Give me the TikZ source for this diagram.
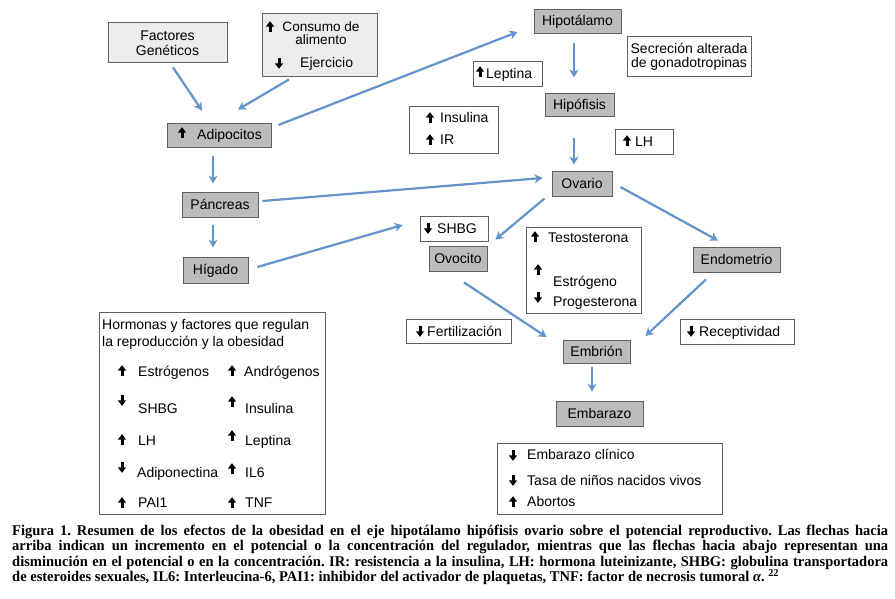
\documentclass[tikz,border=0pt]{standalone}
\usepackage{fontspec}
\setmainfont{Liberation Serif}
\setsansfont{Liberation Sans}
\newfontfamily\capfont[FakeStretch=0.98]{Liberation Serif}
\usetikzlibrary{arrows.meta,calc}
\definecolor{flow}{RGB}{98,148,203}
\definecolor{boxdark}{RGB}{188,188,188}
\definecolor{boxlight}{RGB}{236,236,236}
\definecolor{edge}{RGB}{95,95,95}
\tikzset{
  dbox/.style={draw=edge, fill=boxdark, line width=0.9pt, inner sep=0pt, text height=9pt, text depth=0pt},
  lbox/.style={draw=edge, fill=boxlight, line width=0.9pt, inner sep=0pt},
  wbox/.style={draw=edge, fill=white, line width=0.9pt, inner sep=0pt},
  txt/.style={inner sep=0pt, anchor=west, text height=9pt, text depth=0pt},
  ctxt/.style={inner sep=0pt, anchor=center, text height=9pt, text depth=0pt},
  flowarr/.style={draw=flow, line width=2.2pt, -{Stealth[length=8pt,width=9pt,inset=2.5pt]}},
  capline/.style={inner sep=0pt, anchor=base west, font=\capfont\bfseries\fontsize{14.8}{15.5}\selectfont\frenchspacing},
  upa/.pic={\fill[black] (-4.2,-0.3) -- (0,-5.8) -- (4.2,-0.3) -- cycle; \fill[black] (-1.5,-1) rectangle (1.5,4.8);},
  dna/.pic={\fill[black] (-4.2,0.3) -- (0,5.8) -- (4.2,0.3) -- cycle; \fill[black] (-1.5,1) rectangle (1.5,-4.8);}
}
\begin{document}
\begin{tikzpicture}[x=1pt,y=-1pt,font=\sffamily\fontsize{14}{16}\selectfont]
\useasboundingbox[fill=white] (0,0) rectangle (895,598);

% ---- boxes ----
\node[lbox, minimum width=119, minimum height=40] (gen) at (167.5,42) {};
\node[inner sep=0pt, align=center, font=\sffamily\fontsize{14}{15}\selectfont] (genT) at (167.5,43) {Factores\\Genéticos};

\node[lbox, minimum width=115, minimum height=63] (cons) at (319.5,44.5) {};
\pic at (270,27) {upa};
\node[inner sep=0pt, align=center, font=\sffamily\fontsize{13.6}{13.2}\selectfont] (consA) at (321,33.5) {Consumo de\\alimento};
\pic at (279,63) {dna};
\node[txt] (consC) at (300,63) {Ejercicio};

\node[dbox, minimum width=104, minimum height=24] (adip) at (219,135) {};
\pic at (182,133) {upa};
\node[txt] (adipT) at (197,135) {Adipocitos};

\node[dbox, minimum width=87, minimum height=24] (hipot) at (577.5,21) {Hipotálamo};

\node[wbox, minimum width=124, minimum height=40] (secr) at (689,56) {};
\node[inner sep=0pt, align=center, font=\sffamily\fontsize{14}{14}\selectfont] (secrT) at (689,56.5) {Secreción alterada\\de gonadotropinas};

\node[wbox, minimum width=69, minimum height=25] (lept) at (507.5,73.5) {};
\pic at (480,72) {upa};
\node[txt] (leptT) at (486,74) {Leptina};

\node[dbox, minimum width=69, minimum height=23] (hipof) at (579.5,104.5) {Hipófisis};

\node[wbox, minimum width=89, minimum height=47] (insr) at (453.5,129.5) {};
\pic at (430,118) {upa};
\node[txt] (insA) at (440,118) {Insulina};
\pic at (430,140) {upa};
\node[txt] (insB) at (440,140) {IR};

\node[wbox, minimum width=58, minimum height=25] (lh) at (644,141.5) {};
\pic at (627,141) {upa};
\node[txt] (lhT) at (635,142) {LH};

\node[dbox, minimum width=76, minimum height=25] (panc) at (220,204.5) {Páncreas};
\node[dbox, minimum width=65, minimum height=26] (hig) at (215.5,270) {Hígado};

\node[wbox, minimum width=68, minimum height=25] (shbg) at (454,228.5) {};
\pic at (428,228) {dna};
\node[txt] (shbgT) at (437,229) {SHBG};

\node[dbox, minimum width=60, minimum height=25] (ovario) at (582,183.5) {Ovario};
\node[dbox, minimum width=58, minimum height=25] (ovoc) at (458,258.5) {Ovocito};

\node[wbox, minimum width=115, minimum height=86] (testo) at (583.5,270) {};
\pic at (535,237) {upa};
\node[txt] (testA) at (548,238) {Testosterona};
\pic at (538,270) {upa};
\node[txt] (testB) at (553,282) {Estrógeno};
\pic at (538,297) {dna};
\node[txt] (testC) at (553,302) {Progesterona};

\node[dbox, minimum width=87, minimum height=25] (endo) at (736.5,259.5) {Endometrio};

\node[wbox, minimum width=105, minimum height=24] (fert) at (458.5,331) {};
\pic at (420,331) {dna};
\node[txt] (fertT) at (427,332) {Fertilización};

\node[wbox, minimum width=114, minimum height=25] (recep) at (737,331.5) {};
\pic at (691,331) {dna};
\node[txt] (recepT) at (699,332) {Receptividad};

\node[dbox, minimum width=67, minimum height=23] (embr) at (596.5,351.5) {Embrión};
\node[dbox, minimum width=87, minimum height=25] (embz) at (599.5,413.5) {Embarazo};

% ---- legend ----
\node[wbox, minimum width=226, minimum height=202] (leg) at (212,413) {};
\node[txt] (legA) at (102,325) {Hormonas y factores que regulan};
\node[txt] (legB) at (102,342) {la reproducción y la obesidad};
\pic at (122,371) {upa}; \node[txt] (l1) at (138,372) {Estrógenos};
\pic at (122,400) {dna}; \node[txt] (l2) at (138,409) {SHBG};
\pic at (122,440) {upa}; \node[txt] (l3) at (138,441) {LH};
\pic at (122,467) {dna}; \node[txt] (l4) at (137,473) {Adiponectina};
\pic at (122,503) {upa}; \node[txt] (l5) at (138,503) {PAI1};
\pic at (232,371) {upa}; \node[txt] (r1) at (244,372) {Andrógenos};
\pic at (232,402) {upa}; \node[txt] (r2) at (245,409) {Insulina};
\pic at (232,436) {upa}; \node[txt] (r3) at (245,441) {Leptina};
\pic at (232,469) {upa}; \node[txt] (r4) at (245,473) {IL6};
\pic at (232,503) {upa}; \node[txt] (r5) at (245,503) {TNF};

% ---- outcomes ----
\node[wbox, minimum width=225, minimum height=71] (outc) at (609.5,478.5) {};
\pic at (513,455) {dna}; \node[txt] (o1) at (527,455) {Embarazo clínico};
\pic at (513,480) {dna}; \node[txt] (o2) at (527,481) {Tasa de niños nacidos vivos};
\pic at (513,502) {upa}; \node[txt] (o3) at (527,502) {Abortos};

% ---- connectors ----
\draw[flowarr] ($(gen.south)+(5.5,5)$) -- ($(adip.north)+(-17,-12)$);
\draw[flowarr] ($(cons.south)+(-30.5,3)$) -- ($(adip.north)+(19,-13)$);
\draw[flowarr] ($(adip.east)+(7,-10)$) -- ($(hipot.west)+(-16,11)$);
\draw[flowarr] ($(hipot.south)+(-3.5,10)$) -- ($(hipof.north)+(-5.5,-15)$);
\draw[flowarr] ($(hipof.south)+(-5.5,22)$) -- ($(ovario.north)+(-8,-6)$);
\draw[flowarr] ($(adip.south)+(-6,9)$) -- ($(panc.north)+(-7,-8)$);
\draw[flowarr] ($(panc.south)+(-7,8)$) -- ($(hig.north)+(-2.5,-9)$);
\draw[flowarr] ($(panc.east)+(4,-3.5)$) -- ($(ovario.west)+(-9,-5.5)$);
\draw[flowarr] ($(hig.east)+(9,-3)$) -- ($(shbg.west)+(-17,-3.5)$);
\draw[flowarr] ($(ovario.south west)+(-7,2)$) -- ($(ovoc.north east)+(8,-6)$);
\draw[flowarr] ($(ovario.east)+(8,3.5)$) -- ($(endo.north)+(-18.5,-6)$);
\draw[flowarr] ($(ovoc.south)+(6,11)$) -- ($(embr.west)+(-16,-14.5)$);
\draw[flowarr] ($(endo.south)+(-30.5,7)$) -- ($(embr.east)+(15,-15.5)$);
\draw[flowarr] ($(embr.south)+(-4.5,4)$) -- ($(embz.north)+(-7.5,-9)$);

% ---- caption ----
\node[capline] (cap1) at (12,535) {\makebox[876pt][s]{Figura 1. Resumen de los efectos de la obesidad en el eje hipotálamo hipófisis ovario sobre el potencial reproductivo. Las flechas hacia}};
\node[capline] (cap2) at (12,550.5) {\makebox[876pt][s]{arriba indican un incremento en el potencial o la concentración del regulador, mientras que las flechas hacia abajo representan una}};
\node[capline] (cap3) at (12,566) {\makebox[876pt][s]{disminución en el potencial o en la concentración. IR: resistencia a la insulina, LH: hormona luteinizante, SHBG: globulina transportadora}};
\node[capline] (cap4) at (12,581.5) {de esteroides sexuales, IL6: Interleucina-6, PAI1: inhibidor del activador de plaquetas, TNF: factor de necrosis tumoral \textit{α}. \textsuperscript{22}};
\end{tikzpicture}
\end{document}
